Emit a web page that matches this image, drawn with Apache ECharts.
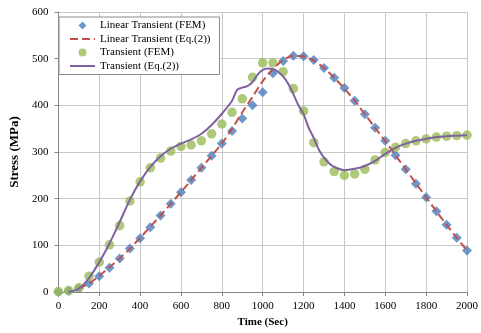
<!DOCTYPE html>
<html>
<head>
<meta charset="utf-8">
<script src="https://cdn.jsdelivr.net/npm/echarts@6/dist/echarts.min.js"></script>
<style>html,body{margin:0;padding:0;background:#fff;}#c{width:481px;height:333px;}</style>
</head>
<body>
<div id="c"></div>
<script>
// FEM sample times (s)
const femTimes = [0,50,100,150,200,250,300,350,400,450,500,550,600,650,700,750,800,850,900,950,1000,
  1050,1100,1150,1200,1250,1300,1350,1400,1450,1500,1550,1600,1650,1700,1750,1800,1850,1900,1950,2000];
// Linear Transient (FEM) stress (MPa)
const linearFEM = [0,2,8,18,34,52,72,93,115,139,164,189,214,240,266,292,318,345,372,400,428,
  469,495,506,505,497,480,459,437,410,381,352,324,293,263,232,203,173,144,116,89];
// Transient (FEM) stress (MPa)
const transientFEM = [1,3,9,34,64,101,142,195,236,266,287,302,312,315,324,339,360,385,414,460,491,
  491,472,436,388,320,279,258,250,253,263,283,299,310,318,324,328,332,334,335,336];
// Linear Transient (Eq.(2))
const linearEqTimes = [100,150,200,250,300,350,400,450,500,550,600,650,700,750,800,850,900,950,1000,
  1050,1100,1150,1200,1250,1300,1350,1400,1450,1500,1550,1600,1650,1700,1750,1800,1850,1900,1950,2000];
const linearEq = [8,18,35,53,72,93,116,140,164,189,214,240,266,292,318,350,385,418,452,
  478,497,506,505,496,480,459,436,410,381,352,323,293,263,233,203,173,144,116,89];
// Transient (Eq.(2))
const transEqTimes = [50,100,150,200,250,300,350,400,450,500,550,600,650,700,750,800,850,875,900,925,950,975,1000,
  1025,1050,1075,1100,1125,1150,1175,1200,1225,1250,1275,1300,1325,1350,1400,1450,1500,1550,1600,1650,1700,1750,1800,1850,1900,1950,2000];
const transEq = [0,7,30,64,104,150,198,237,268,291,307,318,327,339,358,382,410,433,438,441,450,466,476,
  479,478,472,462,446,424,400,381,352,330,305,288,276,268,261,264,270,281,296,309,318,324,328,332,334,335,336];

const xTicks = [0,200,400,600,800,1000,1200,1400,1600,1800,2000];
const yTicks = [0,100,200,300,400,500,600];

const pair = (xs, ys) => xs.map((x, i) => [x, ys[i]]);
const serif = '"Liberation Serif", "DejaVu Serif", serif';

const chart = echarts.init(document.getElementById('c'), null, {renderer: 'canvas'});
chart.setOption({
  animation: false,
  backgroundColor: '#fff',
  grid: {left: 53, right: 12.5, top: 12, bottom: 40, containLabel: false},
  legend: {
    orient: 'vertical', left: 59, top: 17,
    backgroundColor: '#fff', borderColor: '#8c8c8c', borderWidth: 1,
    padding: [3, 9, 3, 10],
    itemWidth: 25, itemHeight: 8, itemGap: 2.5,
    symbolKeepAspect: true,
    textStyle: {fontFamily: serif, fontSize: 11, color: '#000'},
    data: [
      {name: 'Linear Transient (FEM)', icon: 'path://M5,0L10,5L5,10L0,5Z'},
      {name: 'Linear Transient (Eq.(2))', itemStyle: {opacity: 0}},
      {name: 'Transient (FEM)', icon: 'circle'},
      {name: 'Transient (Eq.(2))', itemStyle: {opacity: 0}}
    ]
  },
  xAxis: {
    type: 'value', min: xTicks[0], max: xTicks[xTicks.length-1], interval: 200,
    name: 'Time (Sec)', nameLocation: 'middle', nameGap: 25,
    nameTextStyle: {fontFamily: serif, fontSize: 11, fontWeight: 'bold', color: '#000'},
    axisLine: {show: true, lineStyle: {color: '#868686', width: 1}},
    axisTick: {show: true, length: 4, lineStyle: {color: '#868686'}},
    axisLabel: {fontFamily: serif, fontSize: 11, color: '#000', margin: 9, formatter: v => String(v)},
    splitLine: {show: true, lineStyle: {color: '#c8c8c8', width: 1}}
  },
  yAxis: {
    type: 'value', min: yTicks[0], max: yTicks[yTicks.length-1], interval: 100,
    name: 'Stress (MPa)', nameLocation: 'middle', nameGap: 26,
    nameTextStyle: {fontFamily: serif, fontSize: 13, fontWeight: 'bold', color: '#000'},
    axisLine: {show: true, lineStyle: {color: '#868686', width: 1}},
    axisTick: {show: true, length: 4, lineStyle: {color: '#868686'}},
    axisLabel: {fontFamily: serif, fontSize: 11, color: '#000', margin: 10, formatter: v => String(v)},
    splitLine: {show: true, lineStyle: {color: '#c8c8c8', width: 1}}
  },
  series: [
    {
      name: 'Linear Transient (FEM)', type: 'scatter', symbol: 'diamond', symbolSize: 10,
      itemStyle: {color: '#4A7EBB'}, data: pair(femTimes, linearFEM), z: 3
    },
    {
      name: 'Linear Transient (Eq.(2))', type: 'line', symbol: 'none', smooth: 0.3,
      lineStyle: {color: '#C0504D', width: 2, type: [8, 4]}, itemStyle: {color: '#C0504D'},
      data: pair(linearEqTimes, linearEq), z: 4
    },
    {
      name: 'Transient (FEM)', type: 'scatter', symbol: 'circle', symbolSize: 9.5,
      itemStyle: {color: '#9BBB59'}, data: pair(femTimes, transientFEM), z: 3
    },
    {
      name: 'Transient (Eq.(2))', type: 'line', symbol: 'none', smooth: 0.3,
      lineStyle: {color: '#7F62A0', width: 2}, itemStyle: {color: '#7F62A0'},
      data: pair(transEqTimes, transEq), z: 4
    }
  ]
});
</script>
</body>
</html>
